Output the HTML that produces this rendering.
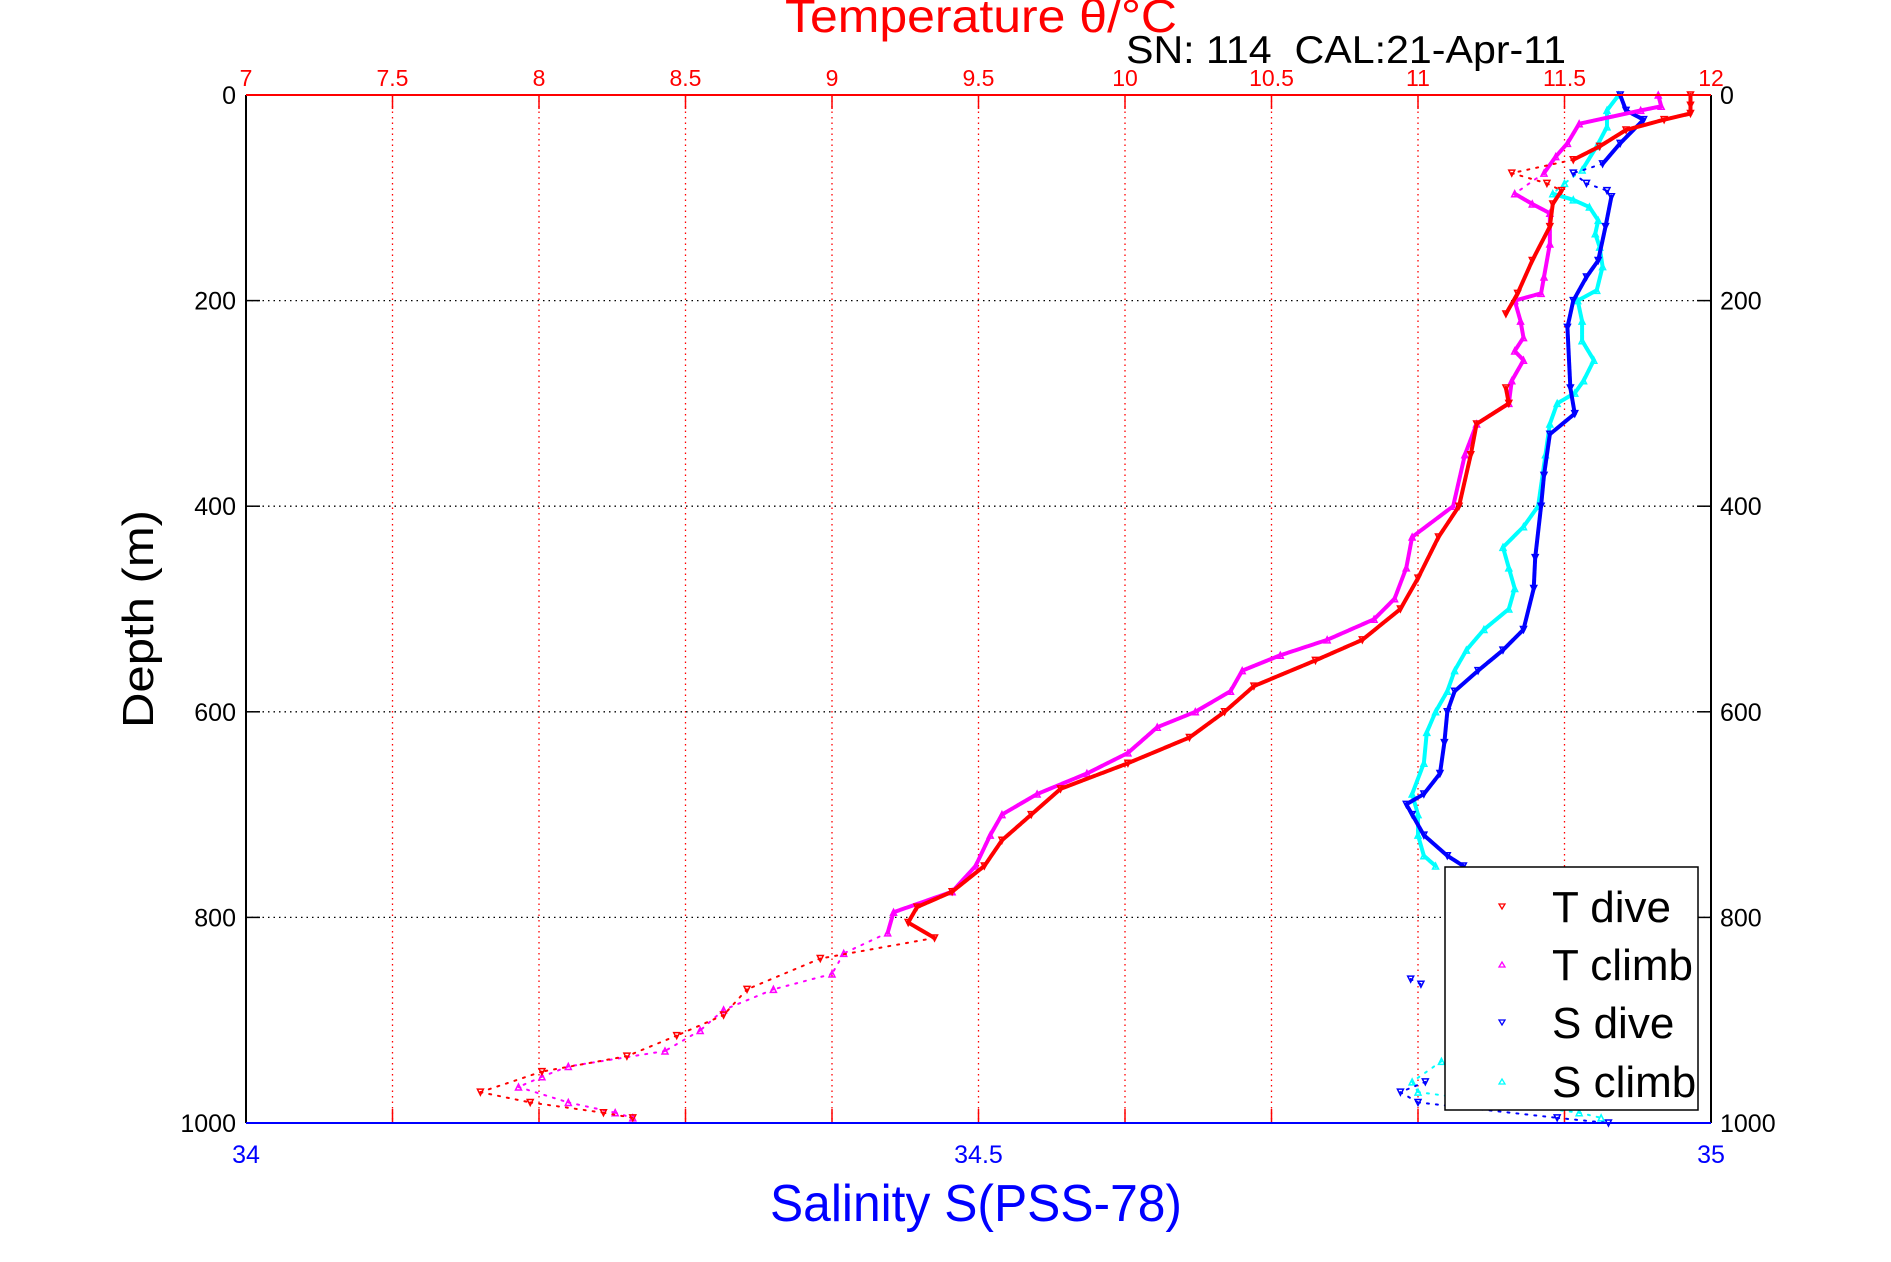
<!DOCTYPE html>
<html><head><meta charset="utf-8"><style>
html,body{margin:0;padding:0;background:#fff;}
svg{display:block;font-family:"Liberation Sans",sans-serif;}
</style></head><body>
<svg id="chart" width="1891" height="1262" viewBox="0 0 1891 1262" xmlns="http://www.w3.org/2000/svg">
<rect x="0" y="0" width="1891" height="1262" fill="#fff"/>
<g id="grid"></g>
<g id="series"></g>
<g id="axes"></g>
<text x="785" y="32" font-size="46" fill="#ff0000" textLength="392" lengthAdjust="spacingAndGlyphs">Temperature θ/°C</text>
<text x="1126" y="63" font-size="39" fill="#000" textLength="440" lengthAdjust="spacingAndGlyphs">SN: 114&#160;&#160;CAL:21-Apr-11</text>
<text transform="translate(153,619) rotate(-90)" text-anchor="middle" font-size="44" fill="#000" textLength="218" lengthAdjust="spacingAndGlyphs">Depth (m)</text>
<text x="770" y="1221" font-size="52" fill="#0000ff" textLength="412" lengthAdjust="spacingAndGlyphs">Salinity S(PSS-78)</text>
<g id="legend">
<rect x="1445" y="867" width="253" height="243" fill="#fff" stroke="#000" stroke-width="1.5"/>
</g>
</svg>
<script>
// ---- data ----
const depthTicks = [0, 200, 400, 600, 800, 1000];
const tempTicks = [7, 7.5, 8, 8.5, 9, 9.5, 10, 10.5, 11, 11.5, 12];
const salTicks = [34, 34.5, 35];
const tDiveDepth = [0,10,18,24,34,50,63,76,86,93,106,128,161,193,213,285,300,320,350,400,430,470,500,530,550,575,600,625,650,675,700,725,750,775,790,805,820,840,870,895,915,935,950,970,980,990,995];
const tDiveVal = [11.93,11.93,11.93,11.84,11.71,11.62,11.53,11.32,11.44,11.49,11.46,11.45,11.39,11.34,11.30,11.30,11.31,11.2,11.18,11.14,11.07,11.0,10.94,10.81,10.65,10.44,10.34,10.22,10.01,9.78,9.68,9.58,9.52,9.41,9.29,9.26,9.35,8.96,8.71,8.63,8.47,8.3,8.01,7.8,7.97,8.22,8.32];
const tClimbDepth = [0,11,15,28,47,60,76,96,106,115,145,177,193,200,220,236,249,258,278,300,320,350,400,430,460,490,510,530,545,560,580,600,615,640,660,680,700,720,750,775,795,815,835,855,870,890,910,930,945,955,965,980,990,995];
const tClimbVal = [11.82,11.83,11.76,11.55,11.51,11.47,11.43,11.33,11.39,11.45,11.45,11.43,11.42,11.33,11.35,11.36,11.33,11.36,11.32,11.31,11.2,11.16,11.12,10.98,10.96,10.92,10.85,10.69,10.53,10.4,10.36,10.24,10.11,10.01,9.87,9.7,9.58,9.54,9.49,9.41,9.21,9.19,9.04,9.0,8.8,8.63,8.55,8.43,8.1,8.01,7.93,8.1,8.26,8.32];
const sDiveDepth = [0,15,24,47,67,76,86,93,99,128,161,177,200,226,285,310,330,370,400,450,480,520,540,560,580,600,630,660,680,690,700,720,740,750,860,865,960,970,980,995,1000];
const sDiveVal = [34.938,34.942,34.954,34.938,34.926,34.906,34.915,34.929,34.932,34.928,34.923,34.915,34.906,34.902,34.904,34.907,34.89,34.886,34.884,34.88,34.879,34.872,34.858,34.841,34.825,34.82,34.818,34.815,34.804,34.792,34.796,34.804,34.82,34.831,34.795,34.802,34.805,34.788,34.8,34.895,34.93];
const sClimbDepth = [0,15,31,50,73,86,96,102,109,122,135,148,167,190,200,220,239,258,278,290,300,320,350,400,420,440,460,480,500,520,540,560,580,600,620,650,680,700,720,740,750,940,960,970,990,995];
const sClimbVal = [34.937,34.929,34.929,34.922,34.912,34.9,34.892,34.906,34.917,34.923,34.921,34.924,34.926,34.922,34.909,34.912,34.912,34.92,34.913,34.907,34.895,34.89,34.887,34.882,34.872,34.858,34.862,34.866,34.862,34.845,34.833,34.825,34.82,34.812,34.806,34.804,34.796,34.8,34.8,34.804,34.812,34.816,34.796,34.8,34.91,34.925];

// ---- axes ----
const L=246,R=1711,T=95,B=1123;
const yD = d => T + d/1000*(B-T);
const xT = t => L + (t-7)/5*(R-L);
const xS = s => L + (s-34)*(R-L);
const NS='http://www.w3.org/2000/svg';
function mk(tag, attrs, parent){const e=document.createElementNS(NS,tag);for(const k in attrs)e.setAttribute(k,attrs[k]);parent.appendChild(e);return e;}
const grid=document.getElementById('grid'), axes=document.getElementById('axes'), series=document.getElementById('series');

tempTicks.forEach(t=>{
  const x=xT(t);
  if(t>7&&t<12){const g=mk('line',{x1:x,y1:T,x2:x,y2:B,stroke:'#ff0000','stroke-width':1.3,'stroke-dasharray':'1.5 4'},grid);
  
  }
  mk('line',{x1:x,y1:T,x2:x,y2:T+14,stroke:'#ff0000','stroke-width':1.5},axes);
  mk('line',{x1:x,y1:B,x2:x,y2:B-14,stroke:'#ff0000','stroke-width':1.5},axes);
  const lb=mk('text',{x:x,y:86,'text-anchor':'middle','font-size':23,fill:'#ff0000'},axes);
  lb.textContent=String(t);
  
  
});
depthTicks.forEach(d=>{
  const y=yD(d);
  if(d>0&&d<1000){const g=mk('line',{x1:L,y1:y,x2:R,y2:y,stroke:'#000','stroke-width':1.3,'stroke-dasharray':'1.5 4'},grid);
  
  }
  mk('line',{x1:L,y1:y,x2:L+14,y2:y,stroke:'#000','stroke-width':1.5},axes);
  mk('line',{x1:R,y1:y,x2:R-14,y2:y,stroke:'#000','stroke-width':1.5},axes);
  const a=mk('text',{x:236,y:y+9,'text-anchor':'end','font-size':25,fill:'#000'},axes);
  a.textContent=String(d);
  
  
  const b=mk('text',{x:1720,y:y+9,'text-anchor':'start','font-size':25,fill:'#000'},axes);
  b.textContent=String(d);
  
  
});
salTicks.forEach(s=>{
  const x=xS(s);
  const lb=mk('text',{x:x,y:1163,'text-anchor':'middle','font-size':25,fill:'#0000ff'},axes);
  lb.textContent=String(s);
  
  
});
mk('line',{x1:L,y1:T,x2:L,y2:B,stroke:'#000','stroke-width':2},axes);
mk('line',{x1:R,y1:T,x2:R,y2:B,stroke:'#000','stroke-width':2},axes);
mk('line',{x1:L,y1:T,x2:R,y2:T,stroke:'#ff0000','stroke-width':2},axes);
mk('line',{x1:L,y1:B,x2:R,y2:B,stroke:'#0000ff','stroke-width':2},axes);

function drawSeries(depths, vals, xf, color, name, down){
  const g=mk('g',{},series);
  
  
  for(let i=1;i<depths.length;i++){
    const gap=depths[i]-depths[i-1];
    if(gap>60) continue;
    const sparse = depths[i]>830 || (depths[i-1]>60 && depths[i]<100);
    mk('line',{x1:xf(vals[i-1]),y1:yD(depths[i-1]),x2:xf(vals[i]),y2:yD(depths[i]),stroke:color,
      'stroke-width':sparse?2:4,'stroke-linecap':'round','stroke-dasharray':sparse?'2 7':'6 1'},g);
  }
  depths.forEach((d,i)=>{
    const x=xf(vals[i]), y=yD(d);
    const p = down ? `M${x-3},${y-3}L${x+3},${y-3}L${x},${y+3}Z` : `M${x-3},${y+3}L${x+3},${y+3}L${x},${y-3}Z`;
    const m=mk('path',{d:p,fill:'none',stroke:color,'stroke-width':1.5},g);
    
    
  });
}
drawSeries(sClimbDepth,sClimbVal,xS,'#00ffff','s-climb-series',false);
drawSeries(sDiveDepth,sDiveVal,xS,'#0000ff','s-dive-series',true);
drawSeries(tClimbDepth,tClimbVal,xT,'#ff00ff','t-climb-series',false);
drawSeries(tDiveDepth,tDiveVal,xT,'#ff0000','t-dive-series',true);

// legend (on top)
const svg=document.getElementById('chart');
const leg=document.getElementById('legend');
svg.appendChild(leg);
const legNames=['T dive','T climb','S dive','S climb'];
const legColors=['#ff0000','#ff00ff','#0000ff','#00ffff'];
const legY=[907,965,1023,1082];
legNames.forEach((n,i)=>{
  const y=legY[i];
  const down = i%2===0;
  const p = down ? `M1499,${y-3}L1505,${y-3}L1502,${y+2}Z` : `M1499,${y+2}L1505,${y+2}L1502,${y-3}Z`;
  const m=mk('path',{d:p,fill:'none',stroke:legColors[i],'stroke-width':1.3},leg);
  
  
  const t=mk('text',{x:1552,y:y+15,'font-size':44,fill:'#000'},leg);
  t.textContent=n;
  
  
});
</script>
</body></html>
